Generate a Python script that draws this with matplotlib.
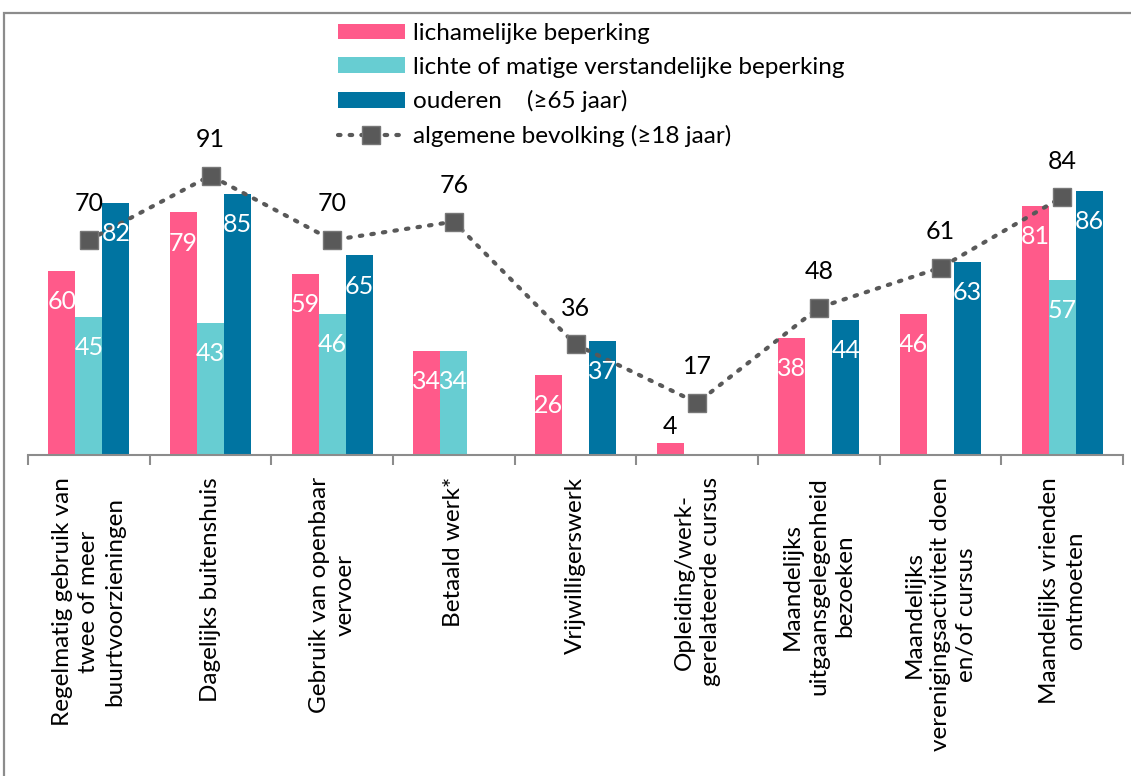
import numpy as np
import matplotlib
matplotlib.use("Agg")
import matplotlib.pyplot as plt
from matplotlib.patches import Patch, Rectangle
from matplotlib.lines import Line2D

plt.rcParams['font.family'] = ['Lato', 'DejaVu Sans']

categories = [
    "Regelmatig gebruik van\ntwee of meer\nbuurtvoorzieningen",
    "Dagelijks buitenshuis",
    "Gebruik van openbaar\nvervoer",
    "Betaald werk*",
    "Vrijwilligerswerk",
    "Opleiding/werk-\ngerelateerde cursus",
    "Maandelijks\nuitgaansgelegenheid\nbezoeken",
    "Maandelijks\nverenigingsactiviteit doen\nen/of cursus",
    "Maandelijks vrienden\nontmoeten",
]
lichamelijk = [60, 79, 59, 34, 26, 4, 38, 46, 81]
verstandelijk = [45, 43, 46, 34, np.nan, np.nan, np.nan, np.nan, 57]
ouderen = [82, 85, 65, np.nan, 37, np.nan, 44, 63, 86]
algemeen = [70, 91, 70, 76, 36, 17, 48, 61, 84]

series_names = ["lichamelijke beperking",
                "lichte of matige verstandelijke beperking",
                "ouderen    (\u226565 jaar)"]
line_name = "algemene bevolking (\u226518 jaar)"
colors = ["#FF5A8A", "#67CDD2", "#0074A1"]
line_color = "#595959"

W, H = 1131, 776
fig = plt.figure(figsize=(W / 100, H / 100), dpi=100)

# outer chart frame (cut off at right and bottom)
fig.patches.append(Rectangle((4 / W, -0.1), 1.2, 1 - 13 / H + 0.1,
                             transform=fig.transFigure, fill=False,
                             edgecolor="#8C8C8C", linewidth=1.6))

ax = fig.add_axes([28 / W, (H - 455) / H, (1123 - 28) / W, 307 / H])
ax.set_ylim(0, 100)
ax.set_xlim(-0.5, len(categories) - 0.5)

x = np.arange(len(categories))
bw = 0.222
for i, (vals, c) in enumerate(zip([lichamelijk, verstandelijk, ouderen], colors)):
    xs = x + (i - 1) * bw
    ax.bar(xs, vals, width=bw, color=c, zorder=2)
    for xi, v in zip(xs, vals):
        if np.isnan(v):
            continue
        if v < 10:
            ax.annotate(f"{v:.0f}", (xi, v), xytext=(0, 12), textcoords="offset points",
                        ha="center", va="center", fontsize=18, color="black")
        else:
            ax.annotate(f"{v:.0f}", (xi, v), xytext=(0, -22), textcoords="offset points",
                        ha="center", va="center", fontsize=18, color="white", zorder=4)

ax.plot(x, algemeen, linestyle=(0, (0.6, 2.2)), dash_capstyle="round", linewidth=3,
        color=line_color, marker="s", markersize=12.5, markerfacecolor=line_color,
        markeredgecolor="#777777", zorder=3)
for xi, v in zip(x, algemeen):
    ax.annotate(f"{v}", (xi, v), xytext=(0, 26), textcoords="offset points",
                ha="center", va="center", fontsize=18, color="black")

for s in ["left", "right", "top"]:
    ax.spines[s].set_visible(False)
ax.spines["bottom"].set_color("#8C8C8C")
ax.spines["bottom"].set_linewidth(1.5)
ax.set_yticks([])
ax.set_xticks(x)
ax.set_xticklabels(categories, rotation=90, fontsize=17.5, va="top", ha="center",
                   multialignment="center", linespacing=1.3)
ax.tick_params(axis="x", which="major", length=0, pad=16)
ax.set_xticks(np.arange(-0.5, len(categories)), minor=True)
ax.tick_params(axis="x", which="minor", length=7, width=1.5, color="#8C8C8C")

handles = [Patch(facecolor=c) for c in colors]
handles.append(Line2D([], [], linestyle=(0, (0.6, 2.2)), dash_capstyle="round",
                      linewidth=3, color=line_color, marker="s", markersize=12.5,
                      markeredgecolor="#777777"))
fig.legend(handles, series_names + [line_name], loc="upper left",
           bbox_to_anchor=(338 / W, 1 - 23 / H), frameon=False, fontsize=17.5,
           handlelength=2.75, handleheight=0.62, handletextpad=0.33,
           labelspacing=0.52, borderpad=0, borderaxespad=0)

fig.savefig("out.png", dpi=100)
